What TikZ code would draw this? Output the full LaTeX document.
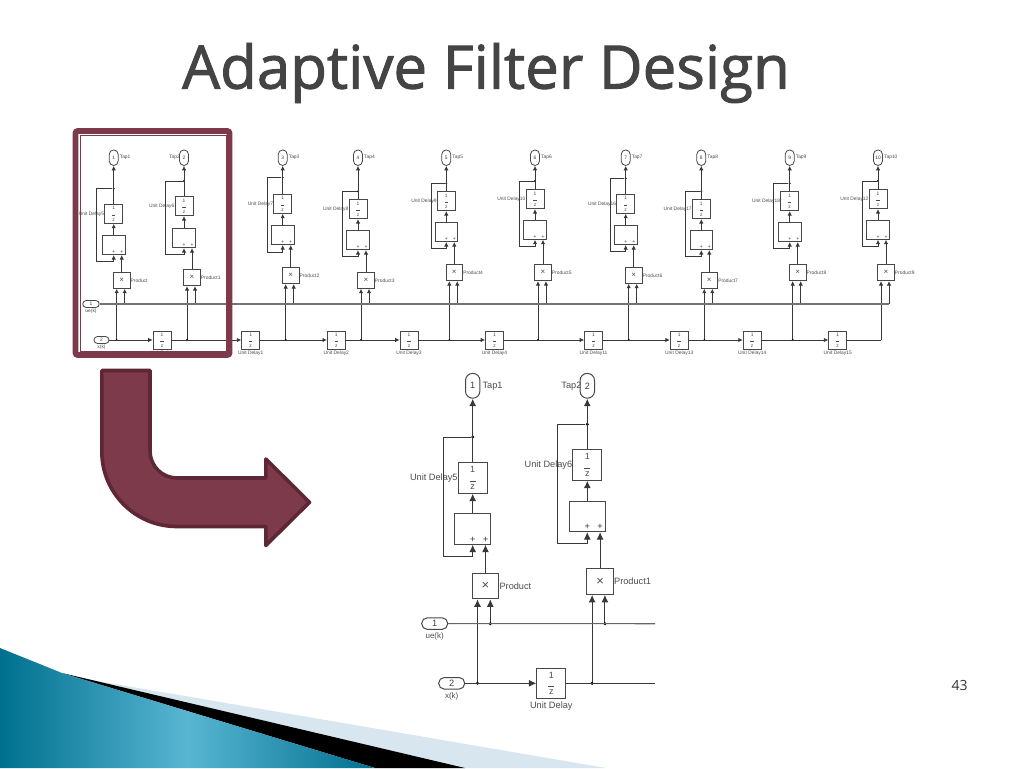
\documentclass[tikz,border=0pt]{standalone}
\usepackage{fontspec}
\setmainfont{Liberation Sans}
\newfontfamily\titlefont{Open Sans}[FakeBold=1.6]
\newfontfamily\pagefont{Open Sans}
\usepackage{xcolor}
\usetikzlibrary{arrows.meta,calc}
\definecolor{maroon}{HTML}{7C3A4A}
\definecolor{maroondk}{HTML}{5F2635}
\definecolor{titlegray}{HTML}{444444}
\definecolor{tealdk}{HTML}{00708F}
\definecolor{teallt}{HTML}{58B6D2}
\definecolor{paleblue}{HTML}{D7E6EF}

% one tap branch: delay, adder, product and the feedback loop
\newcommand{\tapcol}{%
  \node[portv] (tap\n) at (\xc,\yt) {\tn};
  \node[txt,anchor=\ta,xshift=\tdx pt] (taplab\n) at (tap\n.\tb) {Tap\tn};
  \node[delayblk,anchor=north] (del\n) at (\xc,\yd) {1\\\rule{\rw}{0.5pt}\\z};
  \node[txt,anchor=east] (dellab\n) at (del\n.west) {\dl};
  \node[sumblk,anchor=north] (sum\n) at (\xc,\ys) {};
  \node[prodblk,anchor=north] (prod\n) at ({\xc+8*\sc},\yp) {×};
  \node[txt,anchor=west] (prodlab\n) at (prod\n.east) {\pl};
  \coordinate (sa\n) at (sum\n.south);
  \coordinate (sb\n) at ([xshift=8pt*\sc]sum\n.south);
  \node[plus] (pa\n) at ([yshift=3.2pt*\sc]sa\n) {+};
  \node[plus] (pb\n) at ([yshift=3.2pt*\sc]sb\n) {+};
  \coordinate (pia\n) at ([xshift=-5pt*\sc]prod\n.south);
  \coordinate (pib\n) at ([xshift=3pt*\sc]prod\n.south);
  \coordinate (bx\n) at (pia\n |- xln);
  \coordinate (ux\n) at (pib\n |- uln);
  \node[dot] (jn\n) at (\xc,\yj) {};
  \coordinate (fb\n) at (\xl,\yb);
  \draw[wire,arr] (del\n.north) -- (tap\n.south);
  \draw[wire,arr] (sum\n.north) -- (del\n.south);
  \draw[wire,arr] (jn\n) -| (fb\n) -- (fb\n -| sa\n) -- (sa\n);
  \draw[wire,arr] (prod\n.north) -- (sb\n);
  \draw[wire,arr] (bx\n) -- (pia\n);
  \draw[wire,arr] (ux\n) -- (pib\n);
  \ifnum\tn<10
    \node[dot] (dx\n) at (bx\n) {};
    \node[dot] (du\n) at (ux\n) {};
  \fi
}

\begin{document}
\begin{tikzpicture}[x=1pt,y=-1pt,
  every node/.style={inner sep=0pt},
  txt/.style={font=\lfont,text=black!70},
  wire/.style={draw=black!78,line width=\lw},
  arr/.style={-{Latex[length=\tipl,width=\tipw]}},
  dot/.style={circle,fill=black,minimum size=2.1pt*\sc},
  delayblk/.style={draw=black!72,line width=\lw,fill=white,minimum width=18pt*\sc,minimum height=19pt*\sc,align=center,font=\dfont,text=black!70},
  sumblk/.style={draw=black!72,line width=\lw,minimum width=22.5pt*\sc,minimum height=19pt*\sc},
  prodblk/.style={draw=black!72,line width=\lw,fill=white,minimum width=16.7pt*\sc,minimum height=16pt*\sc,font=\pfont,text=black!70},
  plus/.style={font=\lfont,text=black!80},
  portv/.style={draw=black!72,line width=\lw,fill=white,rounded corners=4.4pt*\sc,minimum width=9pt*\sc,minimum height=15.5pt*\sc,font=\lfont,text=black!75},
  porth/.style={draw=black!72,line width=\lw,fill=white,rounded corners=3.5pt*\sc,font=\lfont,text=black!75},
  slidearrow/.style={draw=maroondk,line width=3.6pt,fill=maroon,line join=round}]

\useasboundingbox (0,0) rectangle (1024,768);

% corner decoration
\fill[paleblue] (65,675) -- (115,684) -- (606,768) -- (380,768) -- cycle;
\fill[black] (62,673) -- (375,768) -- (465,768) -- cycle;
\shade[left color=tealdk,right color=tealdk,middle color=teallt,draw=none]
  (0,648) -- (62,673) -- (375,768) -- (0,768) -- cycle;

% title and page number
\node[font=\titlefont\fontsize{60}{62}\selectfont,text=titlegray] (title) at (486,73) {Adaptive Filter Design};
\node[font=\pagefont\fontsize{14}{16}\selectfont,text=black!80] (pageno) at (959.5,685) {43};

% small overview model
\def\sc{1}
\def\lw{0.8pt}
\def\tipl{4.4pt}
\def\tipw{4.4pt}
\def\rw{3.5pt}
\def\tdx{1}
\def\yt{157.7}
\def\lfont{\fontsize{4.9}{5.5}\selectfont}
\def\dfont{\fontsize{4.9}{5.6}\selectfont}
\def\pfont{\fontsize{8}{9}\selectfont}
\coordinate (uln) at (0,304);
\coordinate (xln) at (0,340);

\foreach \n/\tn/\xc/\yd/\ys/\yp/\yj/\xl/\yb/\dl/\pl/\ta/\tb in {
  a1/1/113.7/204/235.3/272/188.7/96/261.7/Unit Delay5/Product/west/east,
  a2/2/184/196.3/228.3/269.3/181/165.7/254.3/Unit Delay6/Product1/east/west,
  a3/3/282.7/194/225.3/267.3/177.7/267/252/Unit Delay7/Product2/west/east,
  a4/4/358/199.3/230.3/272/191.3/342.3/256.7/Unit Delay8/Product3/west/east,
  a5/5/446.3/191.3/222.3/264.3/183.3/431/248.7/Unit Delay9/Product4/west/east,
  a6/6/535/189.3/220/264.3/181/519.7/246.3/Unit Delay10/Product5/west/east,
  a7/7/625.7/194/225.3/267/178.3/610.5/251.7/Unit Delay16/Product6/west/east,
  a8/8/701.3/199.3/230.3/272/191.3/685.3/256.7/Unit Delay17/Product7/west/east,
  a9/9/789.7/191.3/222.3/264.3/183.3/773.7/248.7/Unit Delay18/Product8/west/east,
  a10/10/878/189.3/220/264.3/181/862.3/246.3/Unit Delay12/Product9/west/east}{
  \tapcol
}

% overview inports and delay line
\node[porth,minimum width=16.5pt,minimum height=7pt] (uek) at (91,304) {1};
\node[txt,anchor=north] (ueklab) at ([yshift=-1pt]uek.south) {ue(k)};
\node[porth,minimum width=15pt,minimum height=7pt] (xk) at (101.5,340) {2};
\node[txt,anchor=north] (xklab) at ([yshift=-0.5pt]xk.south) {x(k)};
\foreach \i/\px/\dl in {0/162/Unit Delay,1/250.7/Unit Delay1,2/336.3/Unit Delay2,3/409/Unit Delay3,
  4/494.5/Unit Delay4,5/593.5/Unit Delay11,6/679.2/Unit Delay13,7/752.2/Unit Delay14,8/837.7/Unit Delay15}{
  \node[delayblk,minimum height=18pt] (ud\i) at (\px,340) {1\\\rule{\rw}{0.5pt}\\z};
  \node[txt,anchor=north] (udlab\i) at ([yshift=-1pt]ud\i.south) {\dl};
}
\draw[draw=black!55,line width=1.2pt] (uek.east) -- (uxa10);
\foreach \a/\b in {xk/ud0,ud0/ud1,ud1/ud2,ud2/ud3,ud3/ud4,ud4/ud5,ud5/ud6,ud6/ud7,ud7/ud8}{
  \draw[wire,arr] (\a.east) -- (\b.west);
}
\draw[wire] (ud8.east) -- (bxa10);

% highlight frame
\draw[draw=maroon,line width=5.6pt,rounded corners=2pt] (75.5,131) rectangle (229.5,355);
\draw[draw=maroon,line width=1pt] (80,135) rectangle (226,351.7);

% bent arrow
\draw[slidearrow] (101.8,370.5) -- (150,370.5) -- (150,451) arc[start angle=180,end angle=90,radius=27]
  -- (265.8,478) -- (265.8,459) -- (309.5,502.3) -- (265.8,545.5) -- (265.8,526.5)
  -- (176.8,526.5) arc[start angle=90,end angle=180,radius=75] -- cycle;

% enlarged model
\def\sc{1.6}
\def\lw{1pt}
\def\tipl{7.5pt}
\def\tipw{7pt}
\def\rw{6pt}
\def\tdx{2}
\def\yt{385.8}
\def\lfont{\fontsize{9.2}{10}\selectfont}
\def\dfont{\fontsize{9}{8.2}\selectfont}
\def\pfont{\fontsize{13}{14}\selectfont}
\coordinate (uln) at (0,623.7);
\coordinate (xln) at (0,683.3);

\foreach \n/\tn/\xc/\yd/\ys/\yp/\yj/\xl/\yb/\dl/\pl/\ta/\tb in {
  b1/1/472.7/462.3/513.3/572.7/437/443/556/Unit Delay5/Product/west/east,
  b2/2/587.3/449.3/500.7/568.3/424.3/557.7/543.3/Unit Delay6/Product1/east/west}{
  \tapcol
}

\node[porth,minimum width=26pt,minimum height=11.6pt] (ueb) at (434.7,623.6) {1};
\node[txt,anchor=north,font=\fontsize{8}{9}\selectfont] (ueblab) at ([yshift=-2.5pt]ueb.south) {ue(k)};
\node[porth,minimum width=26pt,minimum height=11.6pt] (xb) at (451.7,683.3) {2};
\node[txt,anchor=north,font=\fontsize{8}{9}\selectfont] (xblab) at ([yshift=-2.5pt]xb.south) {x(k)};
\node[delayblk] (udb) at (551.3,683.3) {1\\\rule{\rw}{0.5pt}\\z};
\node[txt,anchor=north] (udblab) at ([yshift=-2.5pt]udb.south) {Unit Delay};
\coordinate (ueend) at (655,623.7);
\coordinate (xend) at (655,683.3);
\draw[draw=black!60,line width=1.1pt] (ueb.east) -- (ueend);
\draw[wire,arr] (xb.east) -- (udb.west);
\draw[wire] (udb.east) -- (xend);

\end{tikzpicture}
\end{document}
